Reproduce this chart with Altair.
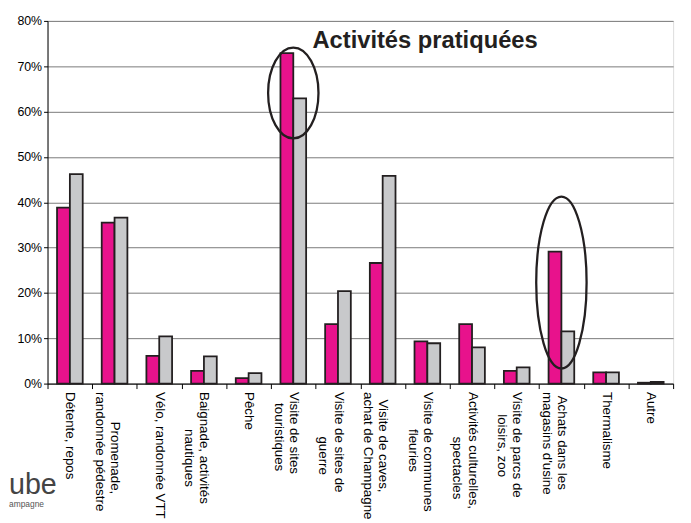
import altair as alt
import pandas as pd

categories = [
    "Détente, repos",
    "Promenade,\nrandonnée pédestre",
    "Vélo, randonnée VTT",
    "Baignade, activités\nnautiques",
    "Pêche",
    "Visite de sites\ntouristiques",
    "Visite de sites de\nguerre",
    "Visite de caves,\nachat de Champagne",
    "Visite de communes\nfleuries",
    "Activités culturelles,\nspectacles",
    "Visite de parcs de\nloisirs, zoo",
    "Achats dans les\nmagasins d'usine",
    "Thermalisme",
    "Autre",
]
series = ["série 1", "série 2"]
serie1 = [38.8, 35.5, 6.1, 2.8, 1.2, 72.9, 13.1, 26.6, 9.3, 13.1, 2.8, 29.1, 2.5, 0.2]
serie2 = [46.2, 36.6, 10.4, 6.0, 2.3, 62.9, 20.4, 45.8, 8.9, 8.0, 3.6, 11.5, 2.5, 0.4]
colors = ["#E8128C", "#C8C9CB"]

# highlighted categories (ellipses): category, centre value, half-width ratio, height px
ell_cats = ["Visite de sites\ntouristiques", "Achats dans les\nmagasins d'usine"]
ell_center = [64.1, 22.3]
ell_ratio = [0.554, 0.293]
ell_height = [92, 174]

title_text = "Activités pratiquées"
logo_text = ["ube", "ampagne"]

rows = []
for i, c in enumerate(categories):
    rows.append({"cat": c, "serie": series[0], "val": serie1[i]})
    rows.append({"cat": c, "serie": series[1], "val": serie2[i]})
df = pd.DataFrame(rows)

def ellipse_path(r):
    return f"M {-r} 0 A {r} 1 0 1 0 {r} 0 A {r} 1 0 1 0 {-r} 0 Z"

edf = pd.DataFrame({
    "cat": ell_cats,
    "val": ell_center,
    "shp": ["e1", "e2"],
    "size": [h * h for h in ell_height],
})

W, H = 633, 367
FONT = "Liberation Sans"
NB = "\u00a0"
ZW = "\u200b"
S = "split(datum.label, '\\n')"
label_expr = (
    f"length({S}) < 2 ? datum.label : "
    f"['{ZW}' + pad({S}[0], length({S}[1]), '{NB}', 'left'), "
    f"'{ZW}' + pad({S}[1], length({S}[0]), '{NB}', 'left')]"
)

x_enc = alt.X(
    "cat:N",
    sort=categories,
    title=None,
    scale=alt.Scale(paddingInner=0, paddingOuter=0),
    axis=alt.Axis(
        tickBand="extent",
        labelAngle=90,
        labelAlign="left",
        labelBaseline="middle",
        labelExpr=label_expr,
        labelFont=FONT,
        labelFontSize=13.5,
        labelLineHeight=15.5,
        labelColor="#000",
        labelPadding=3,
        tickSize=5,
        tickColor="#000",
        domainColor="#000",
        labelLimit=0,
        grid=False,
    ),
)
y_scale = alt.Scale(domain=[0, 80], nice=False)

bars = alt.Chart(df).mark_bar(stroke="#231f20", strokeWidth=1.8).encode(
    x=x_enc,
    xOffset=alt.XOffset("serie:N", sort=series,
                        scale=alt.Scale(paddingInner=0, paddingOuter=0.74)),
    y=alt.Y("val:Q", scale=y_scale, title=None,
            axis=alt.Axis(values=list(range(0, 81, 10)),
                          labelExpr="datum.value + '%'",
                          labelFont=FONT, labelFontSize=12.5, labelColor="#000",
                          tickSize=4, tickColor="#000", domainColor="#000",
                          labelPadding=2,
                          grid=True, gridColor="#7a7a7a", gridWidth=1)),
    color=alt.Color("serie:N", scale=alt.Scale(domain=series, range=colors), legend=None),
)

ellipses = alt.Chart(edf).mark_point(filled=False, stroke="#231f20", strokeWidth=2.3, opacity=1).encode(
    x=alt.X("cat:N", sort=categories),
    y=alt.Y("val:Q", scale=y_scale),
    shape=alt.Shape("shp:N", scale=alt.Scale(domain=["e1", "e2"],
                                             range=[ellipse_path(r) for r in ell_ratio]),
                    legend=None),
    size=alt.Size("size:Q", scale=None),
)

title = alt.Chart(pd.DataFrame({"t": [title_text]})).mark_text(
    font=FONT, fontSize=24, fontWeight="bold", color="#231f20", align="center", baseline="alphabetic"
).encode(text="t:N", x=alt.value(382), y=alt.value(27))

logo = alt.Chart(pd.DataFrame({"t": [logo_text[0]]})).mark_text(
    font=FONT, fontSize=29, color="#444", align="left", baseline="alphabetic"
).encode(text="t:N", x=alt.value(-39), y=alt.value(479))

logo2 = alt.Chart(pd.DataFrame({"t": [logo_text[1]]})).mark_text(
    font=FONT, fontSize=8.5, color="#555", align="left", baseline="alphabetic"
).encode(text="t:N", x=alt.value(-39), y=alt.value(492))

chart = alt.layer(bars, ellipses, title, logo, logo2).properties(
    width=W, height=H,
    autosize=alt.AutoSizeParams(type="none"),
    padding={"left": 40, "top": 10, "right": 10, "bottom": 140},
).configure_view(stroke="#8c8c8c", strokeWidth=1).configure(background="white")

chart.save("out.html", embed_options={"renderer": "svg", "actions": False})
